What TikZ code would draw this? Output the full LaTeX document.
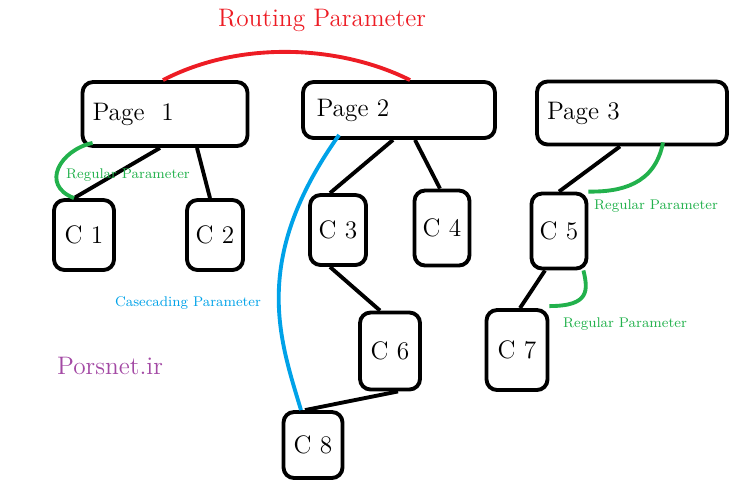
\documentclass[tikz,border=0pt]{standalone}
\usetikzlibrary{positioning,calc}
\definecolor{mred}{HTML}{ED1C24}
\definecolor{mgreen}{HTML}{22B14C}
\definecolor{mblue}{HTML}{00A2E8}
\definecolor{mpurple}{HTML}{A349A4}
\tikzstyle{l2}=[line width=2.2pt]
\tikzstyle{box}=[draw=black, l2, rounded corners=6pt, inner sep=0pt, font=\Large]
\tikzstyle{lbl}=[font=\footnotesize]
\begin{document}
\begin{tikzpicture}[x=0.02cm, y=-0.02cm]
    \useasboundingbox (0,0) rectangle (740,498);

    \node (p1) [box, minimum width=3.3cm, minimum height=1.28cm, text width=2.9cm, align=left] at (165,114) {Page\ \ 1};
    \node (p2) [box, minimum width=3.84cm, minimum height=1.12cm, text width=3.3cm, align=left] at (399,110) {Page 2};
    \node (p3) [box, minimum width=3.8cm, minimum height=1.26cm, text width=3.4cm, align=left] at (632,113) {Page 3};

    \node (c1) [box, minimum width=1.2cm, minimum height=1.4cm] at (84,235) {C 1};
    \node (c2) [box, minimum width=1.12cm, minimum height=1.4cm] at (215,235) {C 2};
    \node (c3) [box, minimum width=1.12cm, minimum height=1.4cm] at (338,230) {C 3};
    \node (c4) [box, minimum width=1.1cm, minimum height=1.5cm] at (442,228) {C 4};
    \node (c5) [box, minimum width=1.1cm, minimum height=1.5cm] at (559,231) {C 5};
    \node (c6) [box, minimum width=1.2cm, minimum height=1.54cm] at (390,351) {C 6};
    \node (c7) [box, minimum width=1.22cm, minimum height=1.6cm] at (517,350) {C 7};
    \node (c8) [box, minimum width=1.18cm, minimum height=1.32cm] at (313,445) {C 8};

    % tree edges
    \draw[l2] ($(p1.south)+(-5,0)$) -- ($(c1.north)+(-10,0)$);
    \draw[l2] ($(p1.south)+(32,0)$) -- ($(c2.north)+(-5,0)$);
    \draw[l2] ($(p2.south)+(-6,0)$) -- ($(c3.north)+(-8,0)$);
    \draw[l2] ($(p2.south)+(16,0)$) -- ($(c4.north)+(-2,0)$);
    \draw[l2] ($(p3.south)+(-12,0)$) -- ($(c5.north)+(0,0)$);
    \draw[l2] ($(c3.south)+(-8,0)$) -- ($(c6.north)+(-10,0)$);
    \draw[l2] ($(c5.south)+(-14,0)$) -- ($(c7.north)+(3,0)$);
    \draw[l2] ($(c6.south)+(8,0)$) -- ($(c8.north)+(-8,0)$);

    % parameters
    \draw[l2, mred] ($(p1.north)+(-2,0)$) .. controls (240,40) and (340,45) .. ($(p2.north)+(11,0)$);
    \node (rt) [mred, font=\Large] at (322,20) {Routing Parameter};

    \draw[l2, mgreen] ($(p1.south west)+(12,-5)$) .. controls (60,150) and (40,185) .. ($(c1.north)+(-10,0)$);
    \node (g1) [lbl, mgreen] at (128,175) {Regular Parameter};
    \draw[l2, mgreen] ($(p3.south)+(31,-4)$) .. controls (655,185) and (620,192) .. ($(c5.north east)+(0,0)$);
    \node (g2) [lbl, mgreen] at (656,206) {Regular Parameter};
    \draw[l2, mgreen] ($(c5.south east)+(-5,0)$) .. controls (588,290) and (590,306) .. ($(c7.north east)+(0,-2)$);
    \node (g3) [lbl, mgreen] at (625,324) {Regular Parameter};

    \draw[l2, mblue] ($(p2.south west)+(38,-5)$) .. controls (250,260) and (280,340) .. ($(c8.north)+(-12,0)$);
    \node (bl) [lbl, mblue] at (188,303) {Casecading Parameter};

    \node (ps) [mpurple, font=\Large] at (110,366) {Porsnet.ir};
\end{tikzpicture}
\end{document}
